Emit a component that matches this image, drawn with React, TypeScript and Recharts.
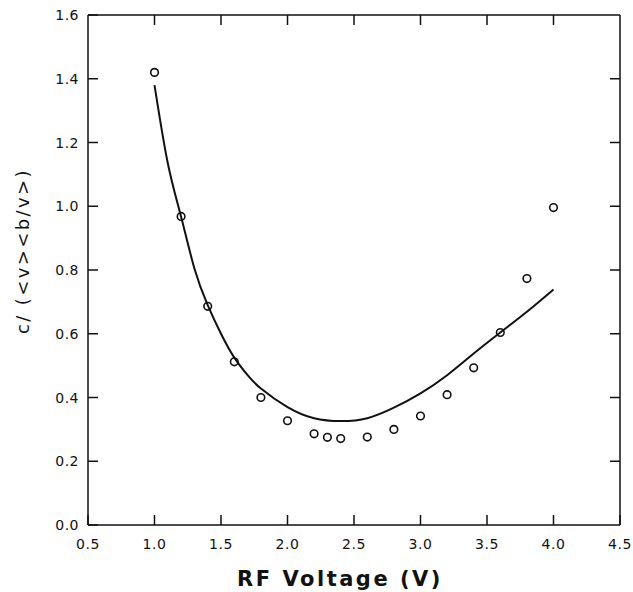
import React from "react";
import { ComposedChart, Line, Scatter, XAxis, YAxis, ReferenceLine } from "recharts";

// Measured points
const pointX = [1.0, 1.2, 1.4, 1.6, 1.8, 2.0, 2.2, 2.3, 2.4, 2.6, 2.8, 3.0, 3.2, 3.4, 3.6, 3.8, 4.0];
const pointY = [1.42, 0.968, 0.686, 0.512, 0.4, 0.327, 0.286, 0.275, 0.271, 0.276, 0.3, 0.342, 0.409, 0.493, 0.604, 0.773, 0.996];

// Fitted curve
const curveX = [1.0, 1.1, 1.2, 1.3, 1.4, 1.5, 1.6, 1.7, 1.8, 2.0, 2.2, 2.4, 2.6, 2.8, 3.0, 3.2, 3.4, 3.6, 3.8, 4.0];
const curveY = [1.38, 1.135, 0.967, 0.805, 0.69, 0.6, 0.525, 0.47, 0.428, 0.37, 0.335, 0.326, 0.335, 0.368, 0.413, 0.47, 0.538, 0.604, 0.669, 0.739];

const xTicks = [0.5, 1.0, 1.5, 2.0, 2.5, 3.0, 3.5, 4.0, 4.5];
const yTicks = [0.0, 0.2, 0.4, 0.6, 0.8, 1.0, 1.2, 1.4, 1.6];
const xInnerTicks = [1.0, 1.5, 2.0, 2.5, 3.0, 3.5, 4.0];
const yInnerTicks = [0.2, 0.4, 0.6, 0.8, 1.0, 1.2, 1.4];
const xMin = 0.5;
const xMax = 4.5;
const yMin = 0.0;
const yMax = 1.6;

const xTitle = "RF Voltage (V)";
const yTitle = "c/ (<v><b/v>)";

const points = pointX.map((x, i) => ({ x, y: pointY[i] }));
const curve = curveX.map((x, i) => ({ x, fit: curveY[i] }));
const topMarks = xInnerTicks.map((x) => ({ x, y: yMax }));
const rightMarks = yInnerTicks.map((y) => ({ x: xMax, y }));

const FONT = "'DejaVu Sans', sans-serif";
const INK = "#111";
const TL = 10;

const BottomTick = (p: any) => (
  <text x={p.x} y={p.y + 32} textAnchor="middle" fontFamily={FONT} fontSize={14} fill={INK} letterSpacing={0.5}>
    {p.payload.value.toFixed(1)}
  </text>
);
const LeftTick = (p: any) => (
  <text x={p.x - 17} y={p.y + 5} textAnchor="end" fontFamily={FONT} fontSize={14} fill={INK} letterSpacing={0.5}>
    {p.payload.value.toFixed(1)}
  </text>
);

const mark = (dx: number, dy: number) => (p: any) => (
  <path d={`M${p.cx},${p.cy}L${p.cx + dx},${p.cy + dy}`} stroke={INK} strokeWidth={1.5} fill="none" />
);
const MarkDown = mark(0, TL);
const MarkLeft = mark(-TL, 0);

const Circle = (p: any) => (
  <circle cx={p.cx} cy={p.cy} r={3.8} fill="none" stroke={INK} strokeWidth={1.6} />
);

export default function App() {
  return (
    <div style={{ position: "absolute", left: 0, top: 0, width: 633, height: 592 }}>
      <ComposedChart width={633} height={592} margin={{ top: 15, right: 13, left: 0, bottom: 0 }}>
        <XAxis
          dataKey="x"
          type="number"
          domain={[xMin, xMax]}
          ticks={xTicks}
          height={67}
          tickSize={-TL}
          axisLine={{ stroke: INK, strokeWidth: 1.5 }}
          tickLine={{ stroke: INK, strokeWidth: 1.5 }}
          tick={BottomTick}
          interval={0}
        />
        <YAxis
          type="number"
          domain={[yMin, yMax]}
          ticks={yTicks}
          width={88}
          tickSize={-TL}
          axisLine={{ stroke: INK, strokeWidth: 1.5 }}
          tickLine={{ stroke: INK, strokeWidth: 1.5 }}
          tick={LeftTick}
        />
        <ReferenceLine y={yMax} stroke={INK} strokeWidth={1.5} />
        <ReferenceLine x={xMax} stroke={INK} strokeWidth={1.5} />
        <Scatter data={topMarks} dataKey="y" shape={MarkDown} isAnimationActive={false} />
        <Scatter data={rightMarks} dataKey="y" shape={MarkLeft} isAnimationActive={false} />
        <Line
          data={curve}
          dataKey="fit"
          type="natural"
          stroke={INK}
          strokeWidth={2}
          dot={false}
          activeDot={false}
          isAnimationActive={false}
        />
        <Scatter data={points} dataKey="y" shape={Circle} isAnimationActive={false} />
      </ComposedChart>
      <svg
        width={633}
        height={592}
        style={{ position: "absolute", left: 0, top: 0, pointerEvents: "none" }}
      >
        <text x={340} y={586} textAnchor="middle" fontFamily={FONT} fontSize={21} fontWeight="bold" fill={INK} letterSpacing={2.5}>
          {xTitle}
        </text>
        <text x={29} y={251} transform="rotate(-90 29 251)" textAnchor="middle" fontFamily={FONT} fontSize={18} fill={INK} letterSpacing={2.4}>
          {yTitle}
        </text>
      </svg>
    </div>
  );
}
